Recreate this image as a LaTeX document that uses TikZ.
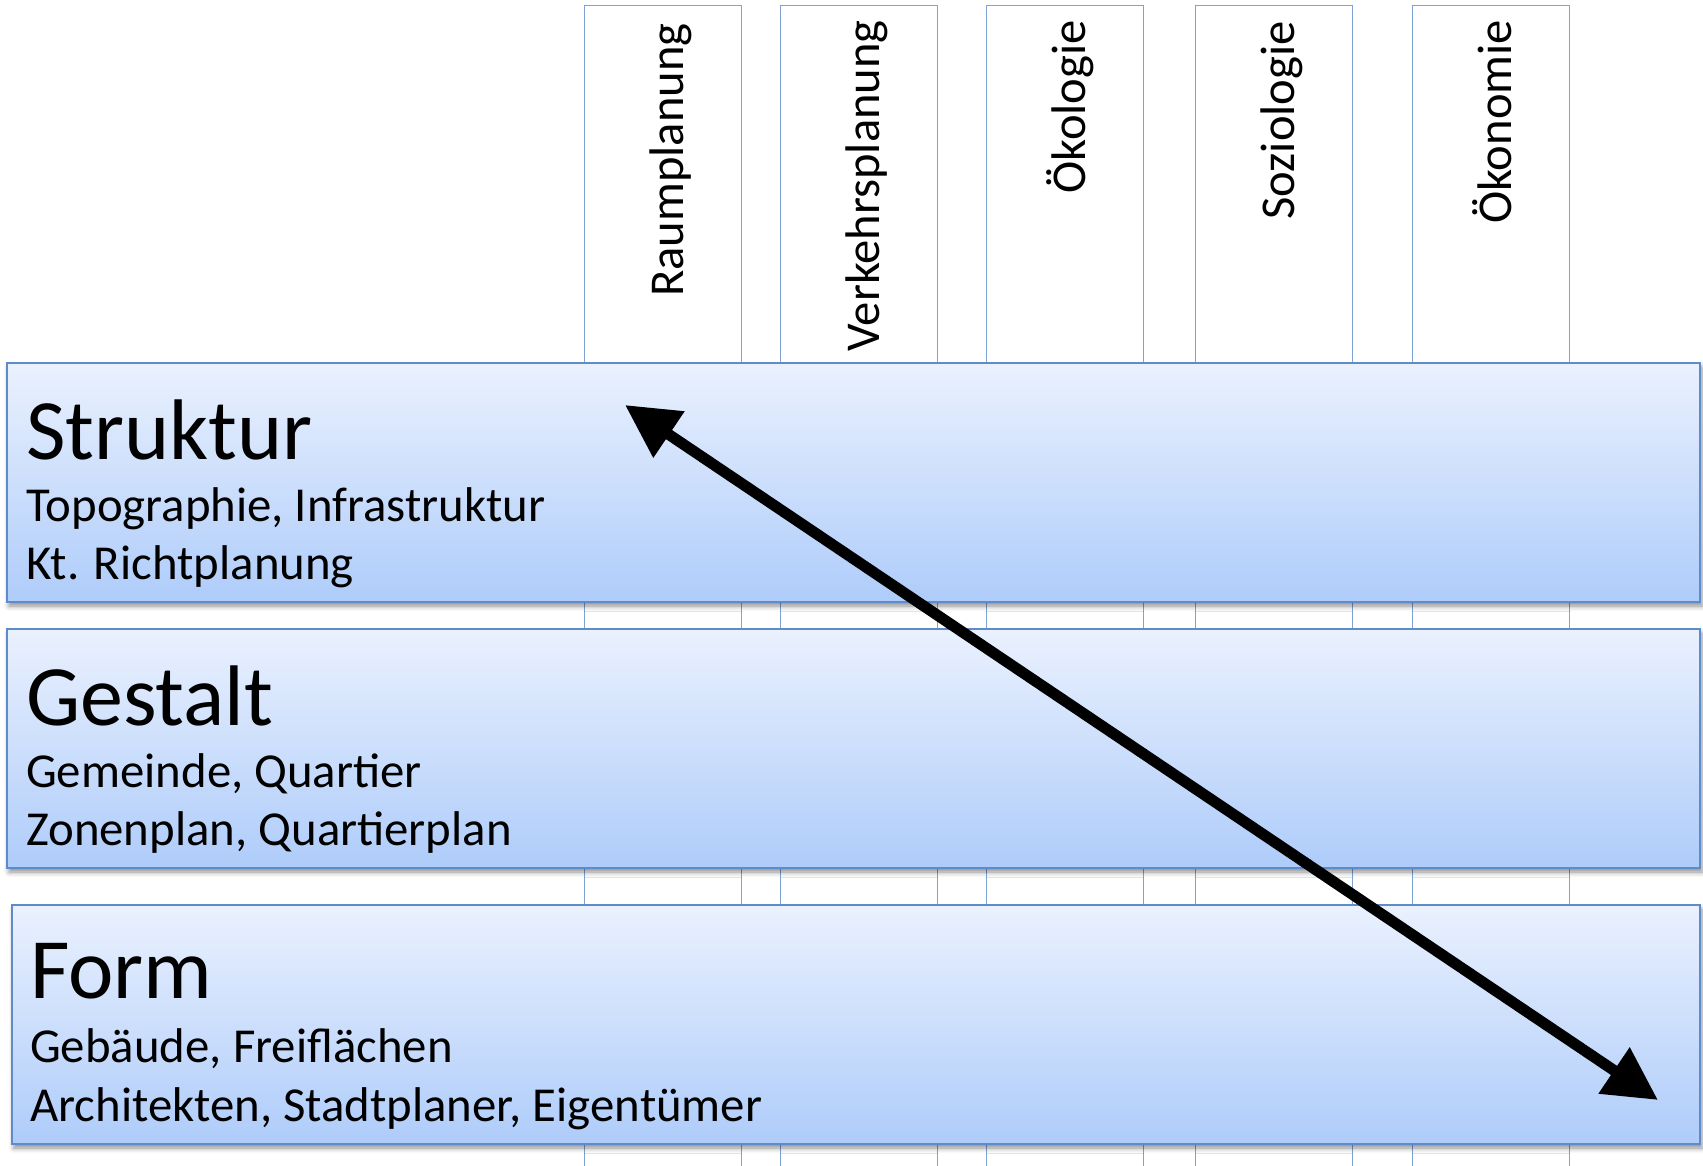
\documentclass[tikz,border=0pt]{standalone}
\usepackage{fontspec}
\setmainfont{Carlito}
\usetikzlibrary{arrows.meta,shadows.blur}
\definecolor{colline}{RGB}{126,164,214}
\definecolor{bandborder}{RGB}{95,140,200}
\definecolor{bandtop}{RGB}{234,241,254}
\definecolor{bandbottom}{RGB}{174,204,250}
\begin{document}
\begin{tikzpicture}[x=1pt,y=-1pt,
  colbox/.style={draw=colline, line width=1.2pt, fill=white, rectangle, inner sep=0pt, anchor=north west, minimum width=157pt, minimum height=1175pt},
  collabel/.style={inner sep=0pt, rotate=90, anchor=base east, font=\fontsize{48.6}{58}\selectfont},
  band/.style={draw=bandborder, line width=2pt, rectangle, inner sep=0pt, anchor=north west,
    top color=bandtop, bottom color=bandbottom, minimum height=239pt,
    blur shadow={shadow xshift=2pt, shadow yshift=-4pt, shadow blur radius=5pt, shadow opacity=45}},
  bandtitle/.style={inner sep=0pt, anchor=base west, font=\fontsize{86}{100}\selectfont},
  bandline/.style={inner sep=0pt, anchor=base west, font=\fontsize{48.8}{58}\selectfont},
  bigarrow/.style={line width=11pt, {Triangle[length=53pt,width=53pt]}-{Triangle[length=53pt,width=53pt]}}
]
\useasboundingbox (0,0) rectangle (1703,1165);
% columns
\node[colbox] (c1) at (584,5) {};
\node[colbox] (c2) at (780,5) {};
\node[colbox] (c3) at (986,5) {};
\node[colbox] (c4) at (1195,5) {};
\node[colbox] (c5) at (1412,5) {};
\node[collabel] (l1) at (683.5,23) {Raumplanung};
\node[collabel] (l2) at (879.5,20) {Verkehrsplanung};
\node[collabel] (l3) at (1085.5,20) {Ökologie};
\node[collabel] (l4) at (1294.5,21) {Soziologie};
\node[collabel] (l5) at (1511.5,20) {Ökonomie};
% bands
\node[band, minimum width=1693pt] (struktur) at (6,362) {};
\node[band, minimum width=1693pt] (gestalt) at (6,628) {};
\node[band, minimum width=1688pt] (form) at (11,904) {};
% texts
\node[bandtitle] (t1) at (26,459) {Struktur};
\node[bandline] (t1a) at (26,521) {Topographie, Infrastruktur};
\node[bandline] (t1b) at (26,579) {Kt. Richtplanung};
\node[bandtitle] (t2) at (26,725) {Gestalt};
\node[bandline] (t2a) at (26,787) {Gemeinde, Quartier};
\node[bandline] (t2b) at (26,845) {Zonenplan, Quartierplan};
\node[bandtitle] (t3) at (30,998) {Form};
\node[bandline] (t3a) at (30,1062) {Gebäude, Freiflächen};
\node[bandline] (t3b) at (30,1121) {Architekten, Stadtplaner, Eigentümer};
% arrow
\coordinate (arrA) at (625,405);
\coordinate (arrB) at (1658,1100);
\draw[bigarrow] (arrA) -- (arrB);
\end{tikzpicture}
\end{document}
